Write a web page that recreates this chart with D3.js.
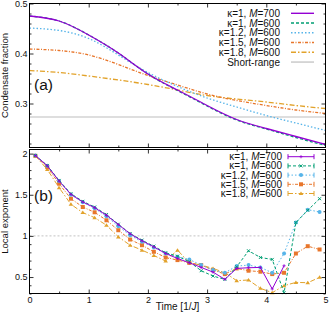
<!DOCTYPE html>
<html>
<head>
<meta charset="utf-8">
<script src="https://cdn.jsdelivr.net/npm/d3@7"></script>
<style>
    body { margin: 0; background: #fff; }
    svg { display: block; font-family: 'Liberation Sans', Arial, sans-serif; }
    .tick line { stroke: #000; stroke-width: 0.8; }
    .tick text { font-size: 9px; fill: #111; }
    .frame { fill: none; stroke: #000; stroke-width: 1; }
    .axisTitle { font-size: 9.5px; fill: #111; }
    .panelLabel { font-size: 15.5px; fill: #111; }
    .legend text { font-size: 10px; fill: #111; }
</style>
</head>
<body>
<script>
'use strict';

// ---- panel (a): condensate fraction ----
const timeA = [0, 0.5, 1, 1.5, 2, 2.5, 3, 3.5, 4, 4.5, 5];
const fracK1M700 = [0.475, 0.465, 0.437, 0.401, 0.359, 0.327, 0.296, 0.268, 0.250, 0.234, 0.218];
const fracK1M600 = [0.475, 0.465, 0.437, 0.401, 0.359, 0.326, 0.295, 0.267, 0.249, 0.232, 0.216];
const fracK12 = [0.451, 0.446, 0.430, 0.397, 0.362, 0.334, 0.311, 0.293, 0.276, 0.261, 0.246];
const fracK15 = [0.409, 0.406, 0.397, 0.378, 0.356, 0.337, 0.319, 0.306, 0.296, 0.287, 0.280];
const fracK18 = [0.366, 0.362, 0.355, 0.347, 0.338, 0.327, 0.316, 0.309, 0.303, 0.296, 0.290];
const shortRange = 0.273;

// ---- panel (b): local exponent ----
const timeB = [0.1, 0.3, 0.5, 0.7, 0.9, 1.1, 1.3, 1.5, 1.7, 1.9, 2.1, 2.3, 2.5,
               2.7, 2.9, 3.1, 3.3, 3.5, 3.7, 3.9, 4.1, 4.3, 4.5, 4.7, 4.9];
const expK1M700 = [1.977, 1.852, 1.666, 1.505, 1.412, 1.343, 1.251, 1.138, 1.025, 0.940, 0.867, 0.786, 0.726,
                   0.673, 0.617, 0.560, 0.472, 0.605, 0.613, 0.617, 0.355, 0.637]; // stops at t=4.3
const expK1M600 = [1.977, 1.856, 1.674, 1.513, 1.420, 1.351, 1.259, 1.142, 1.029, 0.948, 0.875, 0.795, 0.754,
                   0.686, 0.577, 0.512, 0.472, 0.625, 0.819, 0.738, 0.714, 0.310, 1.162, 1.311, 1.452];
const expK12 = [1.977, 1.852, 1.666, 1.501, 1.408, 1.335, 1.238, 1.117, 1.008, 0.928, 0.859, 0.786, 0.746,
                0.714, 0.645, 0.585, 0.552, 0.633, 0.645, 0.617, 0.552, 0.786, 1.162, 1.319, 1.291];
const expK15 = [1.973, 1.836, 1.634, 1.452, 1.351, 1.287, 1.190, 1.069, 0.956, 0.887, 0.807, 0.738, 0.706,
                0.673, 0.645, 0.585, 0.536, 0.605, 0.577, 0.565, 0.536, 0.552, 0.786, 0.875, 0.835];
const expK18 = [1.973, 1.807, 1.586, 1.384, 1.283, 1.222, 1.130, 0.988, 0.887, 0.827, 0.762, 0.694, 0.827,
                0.673, 0.645, 0.605, 0.552, 0.456, 0.464, 0.363, 0.310, 0.395, 0.435, 0.431, 0.496];
const referenceExponent = 1;

// legend labels: kappa and system size M
const kappas = ['1', '1', '1.2', '1.5', '1.8'];
const sizes = ['700', '600', '600', '600', '600'];

// tick values
const timeTicks = [0, 1, 2, 3, 4, 5];
const fracTicks = [0.3, 0.4, 0.5];
const expTicks = [0.5, 1, 1.5, 2];


(function () {

    const styles = [
        { color: '#9400d3', dash: null, marker: 'plus' },
        { color: '#009e73', dash: '3,2', marker: 'cross' },
        { color: '#56b4e9', dash: '1.5,2', marker: 'circle' },
        { color: '#e8762b', dash: '3,1.5,1,1.5', marker: 'square' },
        { color: '#e2a22a', dash: '5,2,1.5,2', marker: 'triangle' }
    ];

    function getPlot() {
        return {
            width: 331,
            height: 314,
            left: 29.5,
            right: 325.5,
            a: { top: 3.5, bottom: 147.5 },
            b: { top: 149.5, bottom: 293.5 }
        };
    }

    function makeScales(plot) {
        return {
            x: d3.scaleLinear().domain([0, 5]).range([plot.left, plot.right]),
            a: d3.scaleLinear().domain([0.212, 0.5]).range([plot.a.bottom, plot.a.top]),
            b: d3.scaleLinear().domain([0.3, 2.05]).range([plot.b.bottom, plot.b.top])
        };
    }

    function minorTicks(lo, hi, step, majors) {
        const n = Math.round((hi - lo) / step);
        return d3.range(n + 1).map(i => +(lo + i * step).toFixed(4))
            .filter(v => !majors.some(m => Math.abs(m - v) < 1e-6));
    }

    /**
     * Inward ticks on all four sides (gnuplot look), labels only where asked.
     */
    function appendFrame(svg, plot, x, y, panel, yMajor, yMinor, yFormat, xLabels) {
        const g = svg.append('g');
        const xMinor = minorTicks(0.5, 4.5, 1, []);
        const noDomain = s => s.select('.domain').remove();

        g.append('g').attr('transform', 'translate(' + plot.left + ',0)')
            .call(d3.axisLeft(y).tickValues(yMajor).tickSize(-4).tickPadding(2).tickFormat(yFormat)).call(noDomain);
        g.append('g').attr('transform', 'translate(' + plot.left + ',0)')
            .call(d3.axisLeft(y).tickValues(yMinor).tickSize(-2).tickFormat('')).call(noDomain);
        g.append('g').attr('transform', 'translate(' + plot.right + ',0)')
            .call(d3.axisRight(y).tickValues(yMajor).tickSize(-4).tickFormat('')).call(noDomain);
        g.append('g').attr('transform', 'translate(' + plot.right + ',0)')
            .call(d3.axisRight(y).tickValues(yMinor).tickSize(-2).tickFormat('')).call(noDomain);

        g.append('g').attr('transform', 'translate(0,' + panel.top + ')')
            .call(d3.axisTop(x).tickValues(timeTicks.slice(1, -1)).tickSize(-4).tickFormat('')).call(noDomain);
        g.append('g').attr('transform', 'translate(0,' + panel.top + ')')
            .call(d3.axisTop(x).tickValues(xMinor).tickSize(-2).tickFormat('')).call(noDomain);
        const bottom = g.append('g').attr('transform', 'translate(0,' + panel.bottom + ')')
            .call(d3.axisBottom(x).tickValues(timeTicks).tickSize(-4).tickPadding(3)
                .tickFormat(xLabels ? d3.format('d') : '')).call(noDomain);
        bottom.selectAll('.tick').filter(d => d === 0 || d === 5).select('line').remove();
        g.append('g').attr('transform', 'translate(0,' + panel.bottom + ')')
            .call(d3.axisBottom(x).tickValues(xMinor).tickSize(-2).tickFormat('')).call(noDomain);

        g.selectAll('g').attr('font-family', null).attr('font-size', null);

        g.append('rect')
            .attr('class', 'frame')
            .attr('x', plot.left)
            .attr('y', panel.top)
            .attr('width', plot.right - plot.left)
            .attr('height', panel.bottom - panel.top);
    }

    function appendMarker(g, shape, cx, cy, color) {
        if (shape === 'plus') {
            g.append('path').attr('d', 'M' + (cx - 1.6) + ',' + cy + 'h3.2M' + cx + ',' + (cy - 1.6) + 'v3.2')
                .attr('stroke', color).attr('stroke-width', 0.8);
        } else if (shape === 'cross') {
            g.append('path')
                .attr('d', 'M' + (cx - 1.5) + ',' + (cy - 1.5) + 'l3,3M' + (cx - 1.5) + ',' + (cy + 1.5) + 'l3,-3')
                .attr('stroke', color).attr('stroke-width', 1);
        } else if (shape === 'circle') {
            g.append('circle').attr('cx', cx).attr('cy', cy).attr('r', 2).attr('fill', color);
        } else if (shape === 'square') {
            g.append('rect').attr('x', cx - 2).attr('y', cy - 2).attr('width', 4).attr('height', 4).attr('fill', color);
        } else if (shape === 'triangle') {
            g.append('path').attr('d', 'M' + (cx - 2.3) + ',' + (cy + 1.5) + 'L' + cx + ',' + (cy - 2) + 'L' + (cx + 2.3) + ',' + (cy + 1.5) + 'Z')
                .attr('fill', color);
        }
    }

    function appendLabelText(g, xPos, yPos, i) {
        const t = g.append('text')
            .attr('x', xPos)
            .attr('y', yPos)
            .attr('dy', '0.35em')
            .attr('text-anchor', 'end');
        t.append('tspan').text('κ=' + kappas[i] + ', ');
        t.append('tspan').attr('font-style', 'italic').text('M');
        t.append('tspan').text('=' + sizes[i]);
    }

    function appendPanelA(svg, plot, scales) {
        const series = [fracK1M700, fracK1M600, fracK12, fracK15, fracK18];
        const line = d3.line()
            .x(d => scales.x(d[0]))
            .y(d => scales.a(d[1]))
            .curve(d3.curveNatural);
        const g = svg.append('g').attr('class', 'curves');

        g.append('line')
            .attr('x1', scales.x(0)).attr('x2', scales.x(5))
            .attr('y1', scales.a(shortRange)).attr('y2', scales.a(shortRange))
            .attr('stroke', '#bdbdbd').attr('stroke-width', 1.2);

        series.slice().reverse().forEach((values, k) => {
            const i = series.length - 1 - k;
            g.append('path')
                .datum(timeA.map((t, j) => [t, values[j]]))
                .attr('d', line)
                .attr('fill', 'none')
                .attr('stroke', styles[i].color)
                .attr('stroke-width', 1.3)
                .attr('stroke-dasharray', styles[i].dash);
        });

        const legend = svg.append('g').attr('class', 'legend');
        const rowY = i => 13.3 + i * 9.75;
        series.forEach((values, i) => {
            appendLabelText(legend, 280, rowY(i), i);
            legend.append('line')
                .attr('x1', 291).attr('x2', 314).attr('y1', rowY(i)).attr('y2', rowY(i))
                .attr('stroke', styles[i].color).attr('stroke-width', 1.4)
                .attr('stroke-dasharray', styles[i].dash);
        });
        legend.append('text')
            .attr('x', 280).attr('y', rowY(5)).attr('dy', '0.35em').attr('text-anchor', 'end')
            .text('Short-range');
        legend.append('line')
            .attr('x1', 291).attr('x2', 314).attr('y1', rowY(5)).attr('y2', rowY(5))
            .attr('stroke', '#bdbdbd').attr('stroke-width', 1.2);

        svg.append('text').attr('class', 'panelLabel').attr('x', 34).attr('y', 90).text('(a)');
    }

    function appendPanelB(svg, plot, scales) {
        const series = [expK1M700, expK1M600, expK12, expK15, expK18];
        const line = d3.line()
            .x(d => scales.x(d[0]))
            .y(d => scales.b(d[1]));
        const g = svg.append('g').attr('class', 'curves');

        g.append('line')
            .attr('x1', scales.x(0)).attr('x2', scales.x(5))
            .attr('y1', scales.b(referenceExponent)).attr('y2', scales.b(referenceExponent))
            .attr('stroke', '#a8a8a8').attr('stroke-width', 0.7).attr('stroke-dasharray', '2,2');

        series.slice().reverse().forEach((values, k) => {
            const i = series.length - 1 - k;
            const pts = values.map((v, j) => [timeB[j], v]);
            g.append('path')
                .datum(pts)
                .attr('d', line)
                .attr('fill', 'none')
                .attr('stroke', styles[i].color)
                .attr('stroke-width', 1)
                .attr('stroke-dasharray', styles[i].dash);
            pts.forEach(p => appendMarker(g, styles[i].marker, scales.x(p[0]), scales.b(p[1]), styles[i].color));
        });

        const legend = svg.append('g').attr('class', 'legend');
        const rowY = i => 156.7 + i * 9.2;
        series.forEach((values, i) => {
            const y = rowY(i);
            appendLabelText(legend, 282, y, i);
            legend.append('line')
                .attr('x1', 288).attr('x2', 314).attr('y1', y).attr('y2', y)
                .attr('stroke', styles[i].color).attr('stroke-width', 1)
                .attr('stroke-dasharray', styles[i].dash);
            [288, 314].forEach(cx => legend.append('line')
                .attr('x1', cx).attr('x2', cx).attr('y1', y - 2.5).attr('y2', y + 2.5)
                .attr('stroke', styles[i].color).attr('stroke-width', 1));
            appendMarker(legend, styles[i].marker, 301, y, styles[i].color);
        });

        svg.append('text').attr('class', 'panelLabel').attr('x', 34).attr('y', 201).text('(b)');
    }

    function appendTitles(svg, plot) {
        svg.append('text').attr('class', 'axisTitle')
            .attr('transform', 'translate(8.3,' + (plot.a.top + plot.a.bottom) / 2 + ') rotate(-90)')
            .attr('text-anchor', 'middle')
            .text('Condensate fraction');
        svg.append('text').attr('class', 'axisTitle')
            .attr('transform', 'translate(8.3,' + (plot.b.top + plot.b.bottom) / 2 + ') rotate(-90)')
            .attr('text-anchor', 'middle')
            .text('Local exponent');
        const t = svg.append('text').attr('class', 'axisTitle')
            .attr('x', (plot.left + plot.right) / 2)
            .attr('y', 309.5)
            .attr('text-anchor', 'middle')
            .style('font-size', '10px');
        t.append('tspan').text('Time [1/');
        t.append('tspan').attr('font-style', 'italic').text('J');
        t.append('tspan').text(']');
    }

    function draw() {
        const plot = getPlot();
        const svg = d3.select('body').append('svg')
            .attr('width', plot.width)
            .attr('height', plot.height);
        const scales = makeScales(plot);

        appendPanelA(svg, plot, scales);
        appendPanelB(svg, plot, scales);
        appendFrame(svg, plot, scales.x, scales.a, plot.a, fracTicks,
            minorTicks(0.22, 0.5, 0.02, fracTicks), d3.format('.1f'), false);
        appendFrame(svg, plot, scales.x, scales.b, plot.b, expTicks,
            minorTicks(0.3, 2.0, 0.1, expTicks), d3.format('~g'), true);
        appendTitles(svg, plot);
    }

    window.onload = draw;

})();
</script>
</body>
</html>
